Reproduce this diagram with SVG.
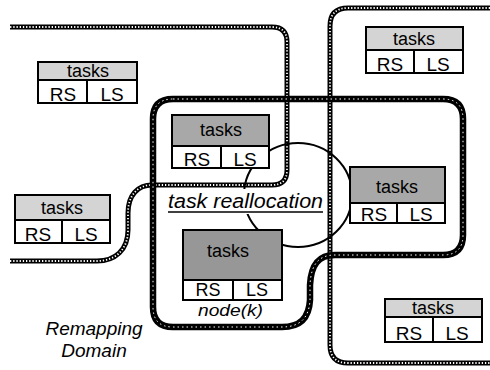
<svg xmlns="http://www.w3.org/2000/svg" width="490" height="370" viewBox="0 0 490 370">
<style>
.thinA{fill:none;stroke:#000;stroke-width:5;stroke-linejoin:round}
.thinB{fill:none;stroke:#fff;stroke-width:1.8;stroke-dasharray:1.3 1.9}
.thickA{fill:none;stroke:#000;stroke-width:6.5;stroke-linejoin:round}
.thickB{fill:none;stroke:#fff;stroke-width:1;stroke-dasharray:1.5 3}
.box{fill:#fff;stroke:#000;stroke-width:2}
.hl{fill:#d4d4d4;stroke:#000;stroke-width:2}
.hm{fill:#a8a8a8;stroke:#000;stroke-width:2}
.hd{fill:#979797;stroke:#000;stroke-width:2}
.div{stroke:#000;stroke-width:2}
text{font-family:"Liberation Sans",Arial,sans-serif;fill:#000}
.t{font-size:18px;text-anchor:middle}
.c{font-size:19px;text-anchor:middle}
.it{font-style:italic;font-size:19px}
.conn{fill:none;stroke:#000;stroke-width:2}
</style>
<rect width="490" height="370" fill="#fff"/>
<g id="regions">
<path id="region1" class="thinA" d="M10,261 H97 C115,261 128,250 128,230 V213 C128,195 138,185 152,185 H272 Q287,185 287,170 V42 Q287,27 272,27 H10"/>
<path class="thinB" d="M10,261 H97 C115,261 128,250 128,230 V213 C128,195 138,185 152,185 H272 Q287,185 287,170 V42 Q287,27 272,27 H10"/>
<path id="region2" class="thinA" d="M490,8 H348 Q330,8 330,26 V345 Q330,363 348,363 H490"/>
<path class="thinB" d="M490,8 H348 Q330,8 330,26 V345 Q330,363 348,363 H490"/>
<path id="remapping-domain" class="thickA" d="M173,99 H443 Q463,99 463,119 V235 Q463,255 443,255 H335 C318,255 311,265 310,285 V300 C309,318 300,327 282,327 H173 Q153,327 153,307 V119 Q153,99 173,99 Z"/>
<path class="thickB" d="M173,99 H443 Q463,99 463,119 V235 Q463,255 443,255 H335 C318,255 311,265 310,285 V300 C309,318 300,327 282,327 H173 Q153,327 153,307 V119 Q153,99 173,99 Z"/>
</g>
<g id="connectors">
<ellipse class="conn" cx="298" cy="195" rx="54" ry="52"/>
</g>
<g id="label-reallocation">
<rect x="166" y="189" width="160" height="25" fill="#fff"/>
<text class="it" x="168" y="208" textLength="155" lengthAdjust="spacingAndGlyphs" style="font-size:20px">task reallocation</text>
<line x1="168" y1="212" x2="323" y2="212" stroke="#000" stroke-width="1.5"/>
</g>
<g id="nodeA">
<rect class="box" x="38" y="62" width="99" height="41"/>
<rect class="hl" x="38" y="62" width="99" height="18"/>
<line class="div" x1="87" y1="80" x2="87" y2="103"/>
<text class="t" x="88" y="77">tasks</text>
<text class="c" x="63" y="101">RS</text>
<text class="c" x="112" y="101">LS</text>
</g>
<g id="nodeB">
<rect class="box" x="172" y="115" width="97" height="53"/>
<rect class="hm" x="172" y="115" width="97" height="31"/>
<line class="div" x1="221" y1="146" x2="221" y2="168"/>
<text class="t" x="221" y="136">tasks</text>
<text class="c" x="197" y="166">RS</text>
<text class="c" x="245" y="166">LS</text>
</g>
<g id="nodeC">
<rect class="box" x="350" y="167" width="95" height="56"/>
<rect class="hm" x="350" y="167" width="95" height="36"/>
<line class="div" x1="397" y1="203" x2="397" y2="223"/>
<text class="t" x="397" y="193">tasks</text>
<text class="c" x="374" y="221">RS</text>
<text class="c" x="421" y="221">LS</text>
</g>
<g id="nodeD">
<rect class="box" x="183" y="230" width="99" height="70"/>
<rect class="hd" x="183" y="230" width="99" height="50"/>
<line class="div" x1="233" y1="280" x2="233" y2="300"/>
<text class="t" x="228" y="257">tasks</text>
<text class="c" x="208" y="296" style="font-size:18px">RS</text>
<text class="c" x="257" y="296" style="font-size:18px">LS</text>
<text class="it" x="198" y="316" textLength="65" lengthAdjust="spacingAndGlyphs" style="font-size:17px">node(k)</text>
</g>
<g id="nodeE">
<rect class="box" x="366" y="27" width="97" height="46"/>
<rect class="hl" x="366" y="27" width="97" height="23"/>
<line class="div" x1="414" y1="50" x2="414" y2="73"/>
<text class="t" x="414" y="45">tasks</text>
<text class="c" x="390" y="71">RS</text>
<text class="c" x="438" y="71">LS</text>
</g>
<g id="nodeF">
<rect class="box" x="15" y="195" width="95" height="48"/>
<rect class="hl" x="15" y="195" width="95" height="25"/>
<line class="div" x1="62" y1="220" x2="62" y2="243"/>
<text class="t" x="62" y="214">tasks</text>
<text class="c" x="38" y="241">RS</text>
<text class="c" x="86" y="241">LS</text>
</g>
<g id="nodeG">
<rect class="box" x="385" y="299" width="97" height="43"/>
<rect class="hl" x="385" y="299" width="97" height="18"/>
<line class="div" x1="433" y1="317" x2="433" y2="342"/>
<text class="t" x="433" y="314">tasks</text>
<text class="c" x="409" y="340">RS</text>
<text class="c" x="457" y="340">LS</text>
</g>
<g id="label-domain">
<text class="it" x="94" y="335" text-anchor="middle">Remapping</text>
<text class="it" x="94" y="357" text-anchor="middle">Domain</text>
</g>
</svg>
